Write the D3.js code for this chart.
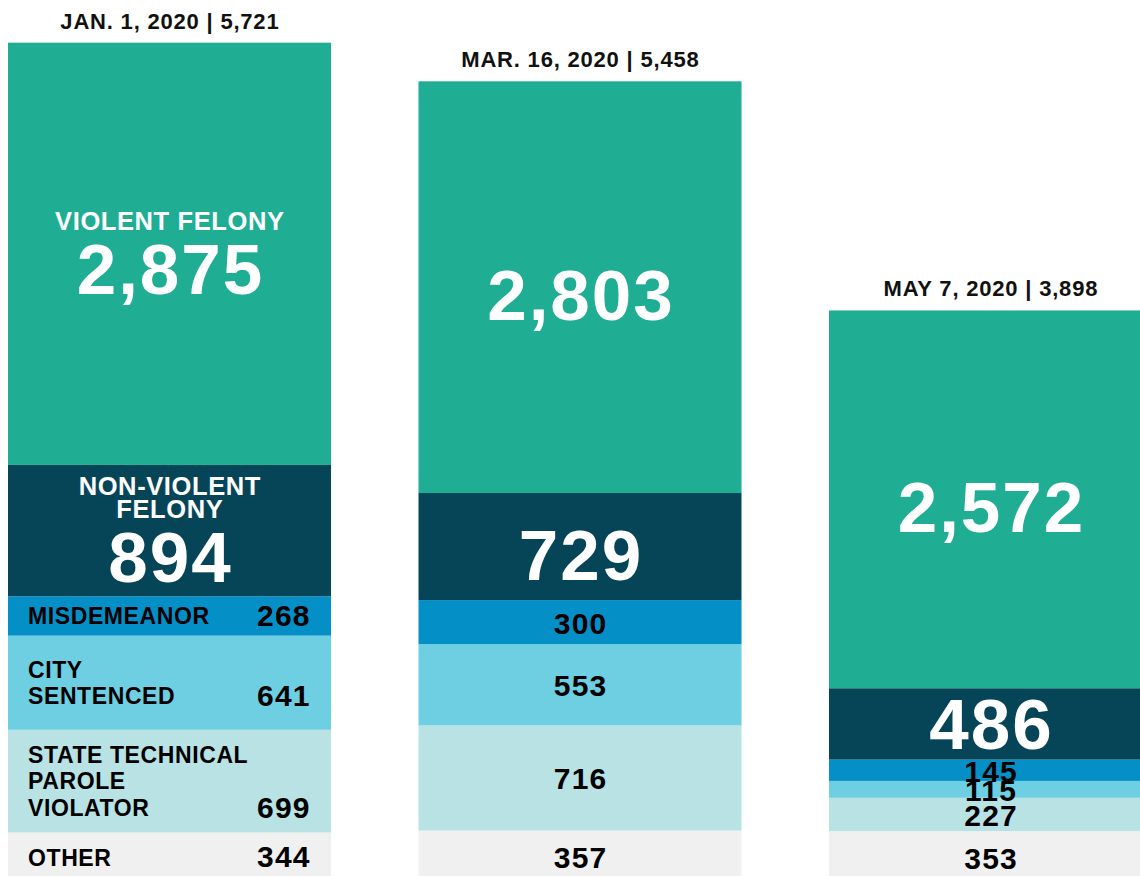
<!DOCTYPE html>
<html>
<head>
<meta charset="utf-8">
<script src="https://cdn.jsdelivr.net/npm/d3@7"></script>
<style>
  html, body { margin: 0; padding: 0; background: #ffffff; overflow: hidden; }
  svg { display: block; font-family: "Liberation Sans", Arial, Helvetica, sans-serif; font-weight: bold; }
</style>
</head>
<body>
<svg id="chart" width="1140" height="876"></svg>
<script>
// ---- data ----
const dates = ["JAN. 1, 2020", "MAR. 16, 2020", "MAY 7, 2020"];
const categories = ["violent", "nonViolent", "misdemeanor", "citySentenced", "stateTechnical", "other"];
const categoryLabels = [
  ["VIOLENT FELONY"],
  ["NON-VIOLENT", "FELONY"],
  ["MISDEMEANOR"],
  ["CITY", "SENTENCED"],
  ["STATE TECHNICAL", "PAROLE", "VIOLATOR"],
  ["OTHER"]
];
const violentFelony    = [2875, 2803, 2572];
const nonViolentFelony = [894, 729, 486];
const misdemeanor      = [268, 300, 145];
const citySentenced    = [641, 553, 115];
const stateTechnical   = [699, 716, 227];
const other            = [344, 357, 353];
const colors = ["#1fad93", "#064557", "#048fc7", "#6ecfe2", "#b8e2e4", "#f0f0f0"];

// ---- build table ----
const series = [violentFelony, nonViolentFelony, misdemeanor, citySentenced, stateTechnical, other];
const table = dates.map((d, i) => {
  const row = { date: d };
  categories.forEach((c, j) => row[c] = series[j][i]);
  row.total = series.reduce((s, arr) => s + arr[i], 0);
  return row;
});

// stack from the bottom: other first, violent on top
const stackOrder = categories.slice().reverse();
const stacked = d3.stack().keys(stackOrder)(table);

const svg = d3.select("#chart");
const x = d3.scaleBand().domain(dates).range([8, 1152]).paddingInner(0.2131).paddingOuter(0);
const y = d3.scaleLinear().domain([0, 6000]).range([883, 1.7]);
const color = d3.scaleOrdinal().domain(categories).range(colors);
const fmt = d3.format(",");

// bars
const layers = svg.append("g").selectAll("g")
  .data(stacked).join("g")
  .attr("fill", d => color(d.key));

layers.selectAll("rect")
  .data(d => d.map(p => Object.assign(p, { key: d.key })))
  .join("rect")
  .attr("x", p => x(p.data.date))
  .attr("width", x.bandwidth())
  .attr("y", p => y(p[1]))
  .attr("height", p => y(p[0]) - y(p[1]));

// helper: text with letter-spacing, compensating the trailing spacing
function addText(g, tx, ty, txt, size, fill, anchor, ls) {
  let dx = 0;
  if (anchor === "middle") dx = ls / 2;
  if (anchor === "end") dx = ls;
  return g.append("text")
    .attr("x", tx + dx).attr("y", ty)
    .attr("text-anchor", anchor)
    .attr("font-size", size)
    .attr("letter-spacing", ls)
    .attr("fill", fill)
    .text(txt);
}

// titles
const titleG = svg.append("g");
table.forEach(d => {
  addText(titleG, x(d.date) + x.bandwidth() / 2, y(d.total) - 14,
    `${d.date} | ${fmt(d.total)}`, 22, "#111", "middle", 0.8);
});

// labels
const labelsG = svg.append("g");
const bigKeys = ["violent", "nonViolent"];

stacked.forEach(layer => {
  const key = layer.key;
  const ci = categories.indexOf(key);
  layer.forEach((p, i) => {
    const y0 = y(p[1]), y1 = y(p[0]);
    const cy = (y0 + y1) / 2;
    const bx = x(p.data.date);
    const cx = bx + x.bandwidth() / 2;
    const value = p[1] - p[0];
    const big = bigKeys.includes(key);
    if (big) {
      if (i === 0) {
        const lines = categoryLabels[ci];
        const lh = 22.6, cap = 18.5, gap = 64;
        const h = cap + (lines.length - 1) * lh + gap;
        const first = cy - h / 2 + cap - 1.5;
        lines.forEach((ln, k) => {
          addText(labelsG, cx, first + k * lh, ln, 25.5, "#fff", "middle", 0.6);
        });
        addText(labelsG, cx, first + (lines.length - 1) * lh + gap, fmt(value), 71, "#fff", "middle", 2);
      } else {
        addText(labelsG, cx, Math.min(cy + 33, y1 - 11), fmt(value), 71, "#fff", "middle", 2);
      }
    } else {
      if (i === 0) {
        const lines = categoryLabels[ci];
        const lh = 26.7, cap = 16.5;
        const first = cy - (lines.length - 1) * lh / 2 + cap / 2;
        lines.forEach((ln, k) => {
          addText(labelsG, bx + 20, first + k * lh, ln, 23, "#000", "start", 0.6);
        });
        addText(labelsG, bx + 301.5, first + (lines.length - 1) * lh + 1.5, fmt(value), 30, "#000", "end", 1.2);
      } else {
        addText(labelsG, cx, cy + 11.5, fmt(value), 30, "#000", "middle", 1.2);
      }
    }
  });
});
</script>
</body>
</html>
